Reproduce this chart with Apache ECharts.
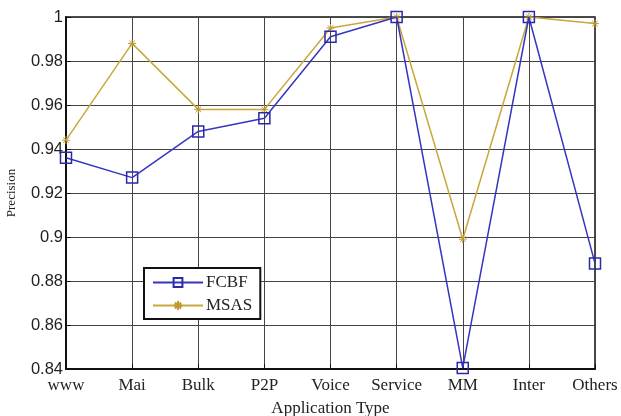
<!DOCTYPE html>
<html><head><meta charset="utf-8">
<script src="https://cdn.jsdelivr.net/npm/echarts@6/dist/echarts.min.js"></script>
<style>html,body{margin:0;padding:0;background:#fff}#c{width:621px;height:416px}</style>
</head><body><div id="c"></div>
<script>
const categories = ['www','Mai','Bulk','P2P','Voice','Service','MM','Inter','Others'];
const fcbf = [0.936,0.927,0.948,0.954,0.991,1.0,0.8405,1.0,0.888];
const msas = [0.944,0.988,0.958,0.958,0.995,1.0,0.899,1.0,0.997];
const yTicks = [0.84,0.86,0.88,0.9,0.92,0.94,0.96,0.98,1];

const chart = echarts.init(document.getElementById('c'), null, {renderer:'canvas'});
const serif = '"Liberation Serif", "DejaVu Serif", serif';
const sans = '"Liberation Sans", Arial, sans-serif';
chart.setOption({
  animation:false,
  backgroundColor:'#fff',
  grid:{left:66,right:26,top:17,bottom:47,show:true,borderColor:'#111',borderWidth:1.5,
        backgroundColor:'transparent',containLabel:false,outerBoundsMode:'none'},
  legend:{
    orient:'vertical', left:144, top:268,
    padding:[6,8,5,8], itemGap:6, itemWidth:50, itemHeight:11,
    backgroundColor:'#fff', borderColor:'#111', borderWidth:2, borderRadius:0,
    textStyle:{fontFamily:serif,fontSize:17,color:'#222',padding:[0,0,0,-2]},
    data:['FCBF','MSAS']
  },
  xAxis:{
    type:'category', data:categories, boundaryGap:false,
    name:'Application Type', nameLocation:'middle', nameGap:31,
    nameTextStyle:{fontFamily:serif,fontSize:17,color:'#222'},
    axisLine:{lineStyle:{color:'#111',width:2}},
    axisTick:{inside:true,length:5,interval:0,lineStyle:{color:'#111'}},
    axisLabel:{fontFamily:serif,fontSize:17,color:'#222',margin:8,interval:0,hideOverlap:false},
    splitLine:{show:true,interval:0,lineStyle:{color:'#444',width:1}}
  },
  yAxis:{
    type:'value', min:0.84, max:1, interval:0.02,
    name:'Precision', nameLocation:'middle', nameGap:48, nameRotate:90,
    nameTextStyle:{fontFamily:serif,fontSize:13,color:'#222'},
    axisLine:{show:true,lineStyle:{color:'#111',width:2}},
    axisTick:{show:true,inside:true,length:5,lineStyle:{color:'#111'}},
    axisLabel:{fontFamily:sans,fontSize:16.5,color:'#222',margin:3,
      formatter:v=>{const t=yTicks.find(x=>Math.abs(x-v)<1e-9);return t===undefined?'':String(t);}},
    splitLine:{show:true,lineStyle:{color:'#444',width:1}}
  },
  series:[
    {name:'FCBF',type:'line',data:fcbf,symbol:'rect',symbolSize:11,
     lineStyle:{color:'#3535c0',width:1.5},
     itemStyle:{color:'rgba(0,0,0,0)',borderColor:'#2a2aa8',borderWidth:1.5},z:3},
    {name:'MSAS',type:'line',data:msas,
     symbol:'path://M0,5L10,5M5,0L5,10M1.5,1.5L8.5,8.5M8.5,1.5L1.5,8.5',symbolSize:8,
     lineStyle:{color:'#c8a83a',width:1.5},
     itemStyle:{color:'rgba(0,0,0,0)',borderColor:'#c09a30',borderWidth:1},z:2}
  ]
});
</script></body></html>
